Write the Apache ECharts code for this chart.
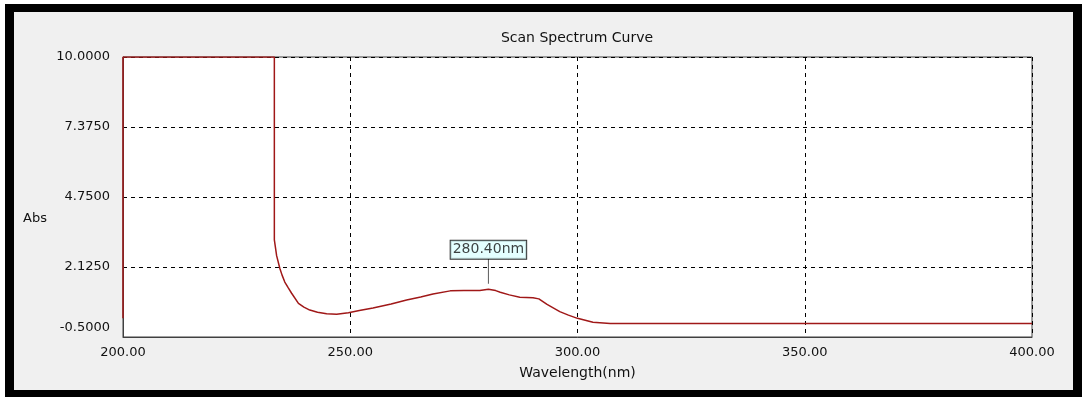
<!DOCTYPE html>
<html>
<head>
<meta charset="utf-8">
<script src="https://cdn.jsdelivr.net/npm/echarts@6/dist/echarts.min.js"></script>
<style>
  html, body { margin: 0; padding: 0; background: #ffffff; width: 1082px; height: 397px; overflow: hidden; }
  #frame { position: absolute; left: 5px; top: 4px; width: 1059px; height: 378px;
           border-style: solid; border-color: #000; border-width: 8px 9px 7px 9px; }
  #chart { width: 1059px; height: 378px; background: #f0f0f0; }
</style>
</head>
<body>
<div id="frame"><div id="chart"></div></div>
<script>
// ---- data ----
const wavelengths = [200, 200, 233.3, 233.3, 233.8, 234.5, 235.0, 235.6, 236.3, 237.1, 238.6, 239.8,
  241.1, 242.8, 244.8, 247.0, 249.6, 252.0, 255.0, 259.0, 262.4, 265.5, 268.2, 272.0, 275.0, 278.5,
  280.4, 282.0, 283.0, 285.0, 287.3, 290.2, 291.5, 293.3, 296.1, 298.0, 300.0, 303.4, 307.2, 310.0,
  350.0, 400.0];
const absorbance = [0.20, 10.0, 10.0, 3.14, 2.55, 2.08, 1.82, 1.56, 1.36, 1.14, 0.76, 0.62,
  0.51, 0.43, 0.37, 0.35, 0.41, 0.49, 0.59, 0.74, 0.89, 1.00, 1.11, 1.23, 1.24, 1.24,
  1.29, 1.24, 1.18, 1.08, 0.99, 0.97, 0.93, 0.72, 0.45, 0.32, 0.20, 0.05, 0.01, 0.01,
  0.01, 0.01];
const yTickValues = [-0.5, 2.125, 4.75, 7.375, 10.0];
const xTickValues = [200, 250, 300, 350, 400];
const peakWavelength = 280.4;
const peakLabel = '280.40nm';
const titleText = 'Scan Spectrum Curve';
const xName = 'Wavelength(nm)';
const yName = 'Abs';

// ---- build ----
const lineData = wavelengths.map((w, i) => [w, absorbance[i]]);
const peakIdx = wavelengths.indexOf(peakWavelength);
const peakPoint = [peakWavelength, absorbance[peakIdx]];
const FONT = 'DejaVu Sans';

const chart = echarts.init(document.getElementById('chart'), null, { renderer: 'canvas' });
chart.setOption({
  animation: false,
  backgroundColor: '#f0f0f0',
  title: {
    text: titleText, left: 563, top: 19, textAlign: 'center', padding: 0,
    textStyle: { fontFamily: FONT, fontSize: 14, fontWeight: 'normal', color: '#111' }
  },
  grid: {
    left: 109, top: 45, right: 41, bottom: 53,
    show: true, backgroundColor: '#ffffff', borderColor: '#404040', borderWidth: 1
  },
  xAxis: {
    type: 'value', min: 200, max: 400, interval: 50,
    name: xName, nameLocation: 'middle', nameGap: 29,
    nameTextStyle: { fontFamily: FONT, fontSize: 14, color: '#111' },
    axisLine: { show: true, onZero: false, lineStyle: { color: '#404040', width: 1 } },
    axisTick: { show: false },
    axisLabel: { margin: 9, fontFamily: FONT, fontSize: 13, color: '#111',
      customValues: xTickValues, formatter: v => v.toFixed(2) },
    splitLine: { show: true, lineStyle: { color: '#000', type: [4, 4], width: 1 } }
  },
  yAxis: {
    type: 'value', min: -0.5, max: 10,
    name: '{n|' + yName + '}', nameLocation: 'middle', nameGap: 76, nameRotate: 0,
    nameTextStyle: { fontFamily: FONT, fontSize: 13, color: '#111', align: 'right',
      verticalAlign: 'middle',
      rich: { n: { fontFamily: FONT, fontSize: 13, color: '#111', padding: [44, 0, 0, 0] } } },
    axisLine: { show: true, onZero: false, lineStyle: { color: '#404040', width: 1 } },
    axisTick: { show: false, customValues: yTickValues },
    axisLabel: { margin: 13, fontFamily: FONT, fontSize: 13, color: '#111',
      customValues: yTickValues,
      formatter: v => v === yTickValues[0] ? '{low|' + v.toFixed(4) + '}' : v.toFixed(4),
      rich: { low: { fontFamily: FONT, fontSize: 13, color: '#111', padding: [0, 0, 18, 0] } } },
    splitLine: { show: true, lineStyle: { color: '#000', type: [4, 4], width: 1 } }
  },
  series: [
    {
      type: 'line', data: lineData, showSymbol: false, symbol: 'none',
      lineStyle: { color: '#a01818', width: 1.5 }, z: 3
    },
    {
      type: 'scatter', data: [peakPoint],
      symbol: 'rect', symbolSize: [1, 25], symbolOffset: [0, -18],
      itemStyle: { color: '#333' }, z: 4,
      label: {
        show: true, position: 'top', distance: 0, formatter: peakLabel,
        fontFamily: FONT, fontSize: 14, color: '#111', lineHeight: 14,
        backgroundColor: '#ddffff', borderColor: '#000', borderWidth: 1, padding: [2, 2, 2, 2]
      }
    }
  ]
});
</script>
</body>
</html>
